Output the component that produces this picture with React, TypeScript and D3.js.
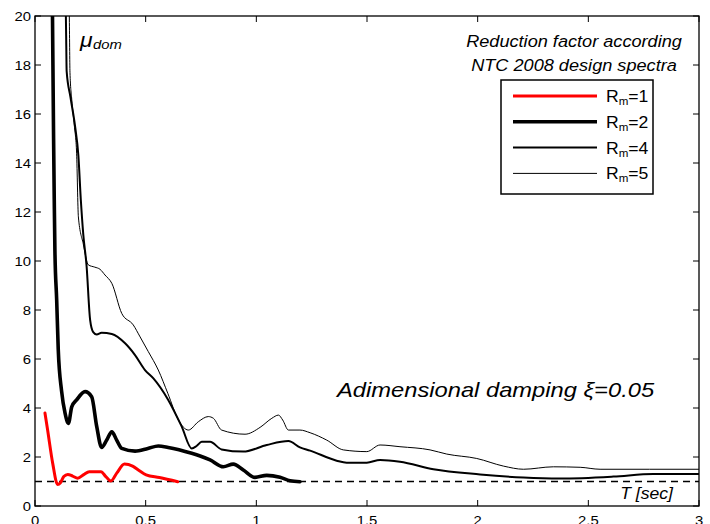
import React from 'react';
import * as d3 from 'd3';

const xTicks = [0, 0.5, 1, 1.5, 2, 2.5, 3];
const xTickLabels = ['0', '0.5', '1', '1.5', '2', '2.5', '3'];
const yTicks = [0, 2, 4, 6, 8, 10, 12, 14, 16, 18, 20];

const r1T = [0.045, 0.057, 0.08, 0.102, 0.115, 0.13, 0.148, 0.17, 0.193, 0.22, 0.245, 0.298, 0.32, 0.343, 0.37, 0.404, 0.441, 0.47, 0.502, 0.562, 0.645];
const r1Mu = [3.8, 3.1, 1.74, 0.88, 0.95, 1.2, 1.29, 1.22, 1.13, 1.28, 1.4, 1.4, 1.2, 1.02, 1.35, 1.71, 1.63, 1.45, 1.27, 1.16, 0.99];

const r2T = [0.078, 0.081, 0.084, 0.087, 0.09, 0.098, 0.105, 0.12, 0.136, 0.151, 0.166, 0.188, 0.226, 0.256, 0.279, 0.301, 0.324, 0.347, 0.369, 0.392, 0.452, 0.51, 0.557, 0.602, 0.708, 0.746, 0.791, 0.851, 0.896, 0.941, 0.994, 1.047, 1.107, 1.152, 1.197];
const r2Mu = [21, 18, 15, 12.5, 10.4, 8.4, 6.4, 4.7, 3.78, 3.37, 4.05, 4.33, 4.67, 4.46, 3.24, 2.39, 2.69, 3.03, 2.69, 2.35, 2.24, 2.35, 2.45, 2.39, 2.15, 2.04, 1.88, 1.6, 1.71, 1.47, 1.17, 1.25, 1.17, 1.03, 0.99];

const r4T = [0.138, 0.141, 0.143, 0.16, 0.181, 0.196, 0.207, 0.218, 0.233, 0.249, 0.263, 0.279, 0.301, 0.347, 0.407, 0.452, 0.497, 0.535, 0.602, 0.663, 0.708, 0.73, 0.753, 0.791, 0.843, 0.941, 1.047, 1.145, 1.197, 1.243, 1.363, 1.408, 1.499, 1.559, 1.649, 1.8, 2.011, 2.207, 2.372, 2.613, 2.794, 3.0];
const r4Mu = [21, 19, 17.75, 16.7, 15.5, 14.3, 12.5, 11.1, 9.8, 7.6, 7.1, 7.0, 7.07, 7.02, 6.64, 6.16, 5.55, 5.21, 4.33, 3.24, 2.35, 2.45, 2.62, 2.62, 2.31, 2.22, 2.49, 2.65, 2.39, 2.26, 1.85, 1.77, 1.77, 1.88, 1.81, 1.5, 1.29, 1.16, 1.12, 1.2, 1.31, 1.31];

const r5T = [0.153, 0.155, 0.158, 0.166, 0.178, 0.188, 0.196, 0.218, 0.241, 0.27, 0.294, 0.316, 0.347, 0.392, 0.444, 0.475, 0.512, 0.557, 0.6, 0.648, 0.693, 0.738, 0.783, 0.806, 0.843, 0.949, 1.017, 1.07, 1.1, 1.119, 1.145, 1.197, 1.243, 1.318, 1.393, 1.499, 1.559, 1.649, 1.785, 1.86, 1.996, 2.116, 2.207, 2.342, 2.463, 2.553, 3.0];
const r5Mu = [21, 20, 17.7, 16.6, 15.5, 14.4, 11.8, 10.7, 9.84, 9.75, 9.66, 9.43, 9.09, 7.86, 7.39, 6.9, 6.3, 5.55, 4.6, 3.51, 3.1, 3.44, 3.65, 3.58, 3.1, 2.93, 3.21, 3.58, 3.71, 3.51, 3.1, 3.1, 2.99, 2.69, 2.29, 2.22, 2.49, 2.42, 2.29, 2.12, 1.94, 1.63, 1.5, 1.6, 1.58, 1.5, 1.5];

const refT = [0, 3];
const refMu = [1, 1];

const legendLabels = ['1', '2', '4', '5'];

const FONT = "Arial, 'Liberation Sans', Helvetica, sans-serif";
const SX = 1.1;

export default function App() {
  const W = 710, H = 524;
  const L = 35, R = 699, T = 16, B = 506;
  const x = d3.scaleLinear().domain([0, 3]).range([L, R]);
  const y = d3.scaleLinear().domain([0, 20]).range([B, T]);
  const line = d3.line<[number, number]>()
    .x(d => x(d[0]))
    .y(d => y(d[1]))
    .curve(d3.curveMonotoneX);
  const zip = (a: number[], b: number[]) => a.map((v, i) => [v, b[i]] as [number, number]);

  const series = [
    { t: r1T, mu: r1Mu, color: '#ff0000', w: 3 },
    { t: r2T, mu: r2Mu, color: '#000', w: 3.6 },
    { t: r4T, mu: r4Mu, color: '#000', w: 2 },
    { t: r5T, mu: r5Mu, color: '#000', w: 1 },
  ];

  const tickLen = 6;
  const legX0 = 501, legY0 = 80, legW = 152, legH = 114;

  return (
    <svg width={W} height={H} style={{ position: 'absolute', left: 0, top: 0, display: 'block', background: '#fff' }} fontFamily={FONT}>
      <defs>
        <clipPath id="plotclip">
          <rect x={L} y={T} width={R - L} height={B - T} />
        </clipPath>
      </defs>
      <rect x={0} y={0} width={W} height={H} fill="#fff" />

      <path d={line(zip(refT, refMu)) || ''} fill="none" stroke="#000" strokeWidth={1.7} strokeDasharray="7,5" />

      <g clipPath="url(#plotclip)">
        {series.slice().reverse().map((s, i) => (
          <path key={i} d={line(zip(s.t, s.mu)) || ''} fill="none" stroke={s.color} strokeWidth={s.w} strokeLinejoin="round" strokeLinecap="round" />
        ))}
      </g>

      <rect x={L} y={T} width={R - L} height={B - T} fill="none" stroke="#000" strokeWidth={1.3} />

      {xTicks.map((v, i) => (
        <g key={'xt' + i}>
          <line x1={x(v)} x2={x(v)} y1={B} y2={B - tickLen} stroke="#000" strokeWidth={1} />
          <line x1={x(v)} x2={x(v)} y1={T} y2={T + tickLen} stroke="#000" strokeWidth={1} />
          <text transform={`translate(${x(v)},${B + 18.5}) scale(${SX},1)`} textAnchor="middle" fontSize={13.5} fill="#000">{xTickLabels[i]}</text>
        </g>
      ))}

      {yTicks.map((v, i) => (
        <g key={'yt' + i}>
          <line x1={L} x2={L + tickLen} y1={y(v)} y2={y(v)} stroke="#000" strokeWidth={1} />
          <line x1={R} x2={R - tickLen} y1={y(v)} y2={y(v)} stroke="#000" strokeWidth={1} />
          <text transform={`translate(${L - 4},${y(v) + 5}) scale(${SX},1)`} textAnchor="end" fontSize={13.5} fill="#000">{String(v)}</text>
        </g>
      ))}

      <text transform={`translate(80,47) scale(1.15,1)`} fontSize={20} fontStyle="italic" fill="#000">μ</text>
      <text transform={`translate(93,48.5) scale(${SX},1)`} fontSize={13.5} fontStyle="italic" fill="#000">dom</text>

      <text transform={`translate(574,47) scale(${SX},1)`} textAnchor="middle" fontSize={16.5} fontStyle="italic" fill="#000">Reduction factor according</text>
      <text transform={`translate(574,71) scale(${SX},1)`} textAnchor="middle" fontSize={16.5} fontStyle="italic" fill="#000">NTC 2008 design spectra</text>

      <rect x={legX0} y={legY0} width={legW} height={legH} fill="#fff" stroke="#000" strokeWidth={1.5} />
      {series.map((s, i) => {
        const ly = 96 + i * 25.8;
        return (
          <g key={'lg' + i}>
            <line x1={513} x2={597} y1={ly} y2={ly} stroke={s.color} strokeWidth={s.w} />
            <text transform={`translate(606,${ly + 6}) scale(${SX},1)`} fontSize={16} fill="#000">
              R<tspan fontSize={10.5} dy={3}>m</tspan><tspan dy={-3}>={legendLabels[i]}</tspan>
            </text>
          </g>
        );
      })}

      <text transform={`translate(337,397) scale(1.13,1)`} fontSize={21} fontStyle="italic" fill="#000">Adimensional damping ξ=0.05</text>

      <text transform={`translate(673,498.5) scale(${SX},1)`} textAnchor="end" fontSize={16} fontStyle="italic" fill="#000">T [sec]</text>
    </svg>
  );
}
